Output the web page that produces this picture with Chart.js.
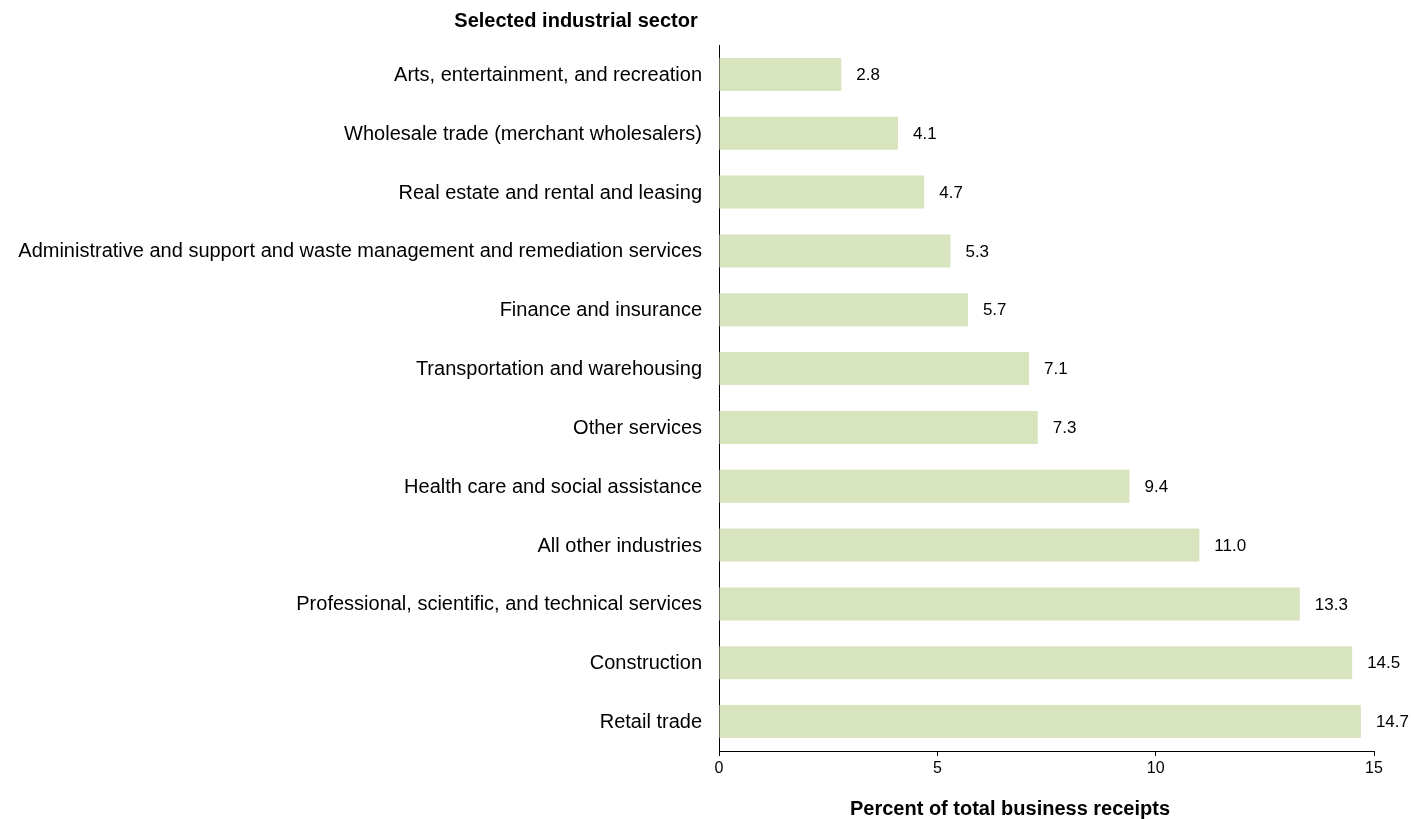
<!DOCTYPE html>
<html>
<head>
<meta charset="utf-8">
<script src="https://cdn.jsdelivr.net/npm/chart.js@4.4.1/dist/chart.umd.min.js"></script>
<style>
  html, body { margin: 0; padding: 0; background: #fff; }
  #wrap { width: 1414px; height: 819px; position: relative; }
</style>
</head>
<body>
<div id="wrap"><canvas id="sectorChart"></canvas></div>
<script>
// Data
const sectors = [
  "Arts, entertainment, and recreation",
  "Wholesale trade (merchant wholesalers)",
  "Real estate and rental and leasing",
  "Administrative and support and waste management and remediation services",
  "Finance and insurance",
  "Transportation and warehousing",
  "Other services",
  "Health care and social assistance",
  "All other industries",
  "Professional, scientific, and technical services",
  "Construction",
  "Retail trade"
];
const percents = [2.8, 4.1, 4.7, 5.3, 5.7, 7.1, 7.3, 9.4, 11.0, 13.3, 14.5, 14.7];
const xTicks = [0, 5, 10, 15];

const yTitle = "Selected industrial sector";
const xTitle = "Percent of total business receipts";
const fontFamily = "'Liberation Sans', Arial, sans-serif";

// Value labels at bar ends + axis titles
const labelsPlugin = {
  id: "labelsPlugin",
  afterDatasetsDraw(chart) {
    const ctx = chart.ctx;
    const meta = chart.getDatasetMeta(0);
    ctx.save();
    ctx.fillStyle = "#000";
    ctx.font = "17px " + fontFamily;
    ctx.textAlign = "left";
    ctx.textBaseline = "middle";
    meta.data.forEach((bar, i) => {
      ctx.fillText(percents[i].toFixed(1), bar.x + 15, bar.y + 1);
    });
    ctx.font = "bold 20px " + fontFamily;
    ctx.textAlign = "center";
    ctx.fillText(yTitle, 576, 21);
    ctx.fillText(xTitle, 1010, 809);
    ctx.restore();
  }
};

const ctx = document.getElementById("sectorChart").getContext("2d");
const chart = new Chart(ctx, {
  type: "bar",
  data: {
    labels: sectors,
    datasets: [{
      data: percents,
      backgroundColor: "#d7e4bd",
      borderWidth: 0,
      categoryPercentage: 1.0,
      barPercentage: 0.56
    }]
  },
  options: {
    indexAxis: "y",
    responsive: true,
    maintainAspectRatio: false,
    animation: false,
    layout: { padding: { top: 45, right: 40, bottom: 0, left: 0 } },
    plugins: {
      legend: { display: false },
      tooltip: { enabled: false },
      title: { display: false }
    },
    scales: {
      x: {
        min: 0,
        max: 15,
        afterBuildTicks(axis) {
          axis.ticks = xTicks.map(v => ({ value: v }));
        },
        afterFit(axis) { axis.height = 68; },
        grid: { drawOnChartArea: false, drawTicks: true, tickLength: 5, color: "#000" },
        border: { color: "#000", width: 1 },
        ticks: { color: "#000", padding: 3, font: { family: fontFamily, size: 16 } }
      },
      y: {
        afterFit(axis) { axis.width = 719; },
        grid: { display: false, drawTicks: false },
        border: { color: "#000", width: 1 },
        ticks: { color: "#000", padding: 17, labelOffset: 1, font: { family: fontFamily, size: 20 } }
      }
    }
  },
  plugins: [labelsPlugin]
});
</script>
</body>
</html>
